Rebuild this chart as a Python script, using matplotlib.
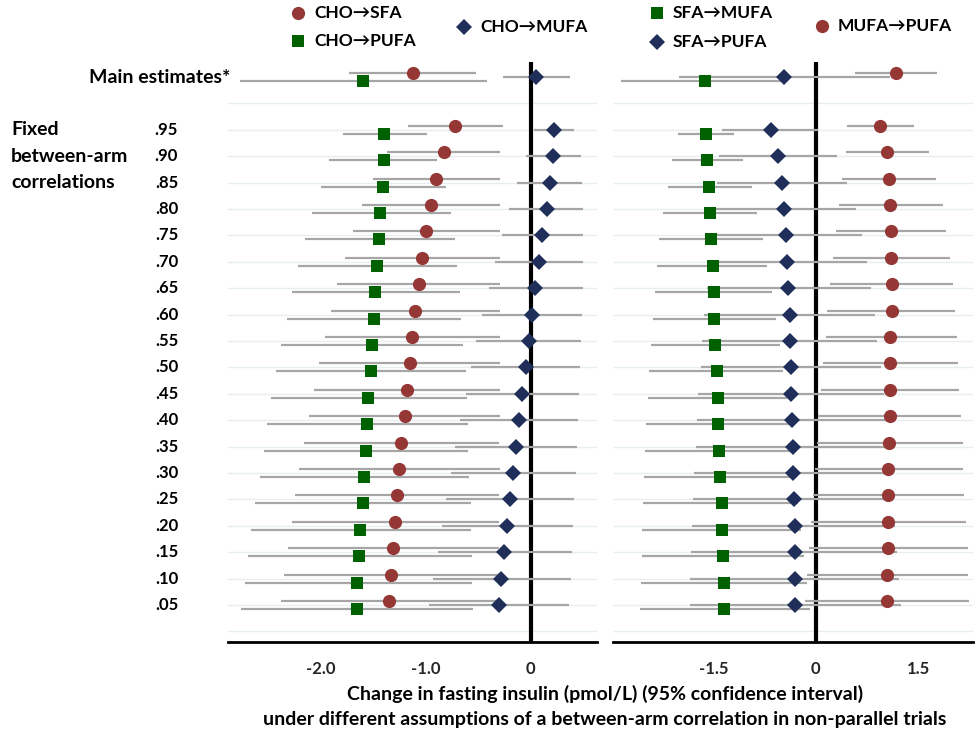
import matplotlib
matplotlib.use("Agg")
import matplotlib.pyplot as plt
import matplotlib.transforms as mtransforms

plt.rcParams['font.family'] = ['Lato', 'DejaVu Sans']
plt.rcParams['font.weight'] = 'bold'

# row labels (first row is the main estimate, then a blank row)
corr_labels = ['.95', '.90', '.85', '.80', '.75', '.70', '.65', '.60', '.55', '.50',
               '.45', '.40', '.35', '.30', '.25', '.20', '.15', '.10', '.05']

# left panel: CHO replaced by ...
cho_sfa = [-1.12, -0.72, -0.83, -0.90, -0.95, -1.00, -1.03, -1.06, -1.10, -1.13, -1.15,
           -1.18, -1.20, -1.23, -1.25, -1.27, -1.29, -1.31, -1.33, -1.35]
cho_sfa_lo = [-1.73, -1.17, -1.37, -1.50, -1.61, -1.69, -1.77, -1.84, -1.90, -1.96, -2.01,
              -2.06, -2.11, -2.16, -2.20, -2.24, -2.27, -2.31, -2.35, -2.38]
cho_sfa_hi = [-0.52, -0.26, -0.29, -0.29, -0.29, -0.29, -0.29, -0.29, -0.29, -0.29, -0.29,
              -0.29, -0.29, -0.30, -0.29, -0.30, -0.30, -0.30, -0.30, -0.31]

cho_pufa = [-1.60, -1.40, -1.40, -1.41, -1.43, -1.44, -1.46, -1.48, -1.49, -1.51, -1.52,
            -1.55, -1.56, -1.57, -1.59, -1.60, -1.62, -1.63, -1.65, -1.65]
cho_pufa_lo = [-2.77, -1.79, -1.92, -2.00, -2.08, -2.15, -2.21, -2.27, -2.32, -2.38, -2.42,
               -2.47, -2.51, -2.54, -2.58, -2.62, -2.66, -2.69, -2.72, -2.76]
cho_pufa_hi = [-0.42, -0.99, -0.89, -0.81, -0.76, -0.72, -0.70, -0.67, -0.66, -0.64, -0.62,
               -0.61, -0.60, -0.60, -0.59, -0.57, -0.57, -0.56, -0.56, -0.55]

cho_mufa = [0.05, 0.22, 0.21, 0.18, 0.15, 0.11, 0.08, 0.04, 0.01, -0.02, -0.05,
            -0.08, -0.11, -0.14, -0.17, -0.20, -0.23, -0.25, -0.28, -0.30]
cho_mufa_lo = [-0.26, 0.03, -0.05, -0.13, -0.21, -0.27, -0.34, -0.40, -0.46, -0.52, -0.57,
               -0.62, -0.67, -0.72, -0.76, -0.81, -0.84, -0.88, -0.93, -0.97]
cho_mufa_hi = [0.37, 0.41, 0.48, 0.49, 0.50, 0.50, 0.50, 0.50, 0.49, 0.48, 0.47,
               0.46, 0.45, 0.44, 0.43, 0.41, 0.40, 0.39, 0.38, 0.36]

# right panel: fat replaced by fat
sfa_mufa = [-1.63, -1.61, -1.59, -1.57, -1.55, -1.53, -1.51, -1.49, -1.49, -1.47, -1.45,
            -1.44, -1.43, -1.42, -1.40, -1.38, -1.38, -1.36, -1.34, -1.34]
sfa_mufa_lo = [-2.85, -2.02, -2.11, -2.17, -2.24, -2.29, -2.32, -2.35, -2.38, -2.42, -2.44,
               -2.46, -2.49, -2.50, -2.51, -2.53, -2.54, -2.55, -2.56, -2.58]
sfa_mufa_hi = [-0.48, -1.20, -1.06, -0.94, -0.86, -0.77, -0.72, -0.64, -0.59, -0.53, -0.48,
               -0.43, -0.39, -0.34, -0.30, -0.26, -0.22, -0.17, -0.13, -0.09]

sfa_pufa = [-0.47, -0.66, -0.55, -0.50, -0.46, -0.44, -0.42, -0.41, -0.38, -0.38, -0.37,
            -0.36, -0.35, -0.34, -0.33, -0.32, -0.30, -0.30, -0.30, -0.30]
sfa_pufa_lo = [-2.01, -1.37, -1.42, -1.45, -1.49, -1.53, -1.56, -1.60, -1.64, -1.66, -1.68,
               -1.72, -1.74, -1.76, -1.78, -1.80, -1.81, -1.83, -1.84, -1.85]
sfa_pufa_hi = [1.08, 0.03, 0.31, 0.45, 0.58, 0.68, 0.75, 0.81, 0.86, 0.90, 0.96,
               1.00, 1.03, 1.07, 1.10, 1.13, 1.16, 1.19, 1.22, 1.25]

mufa_pufa = [1.17, 0.94, 1.04, 1.07, 1.09, 1.10, 1.10, 1.11, 1.11, 1.09, 1.09,
             1.08, 1.08, 1.07, 1.06, 1.06, 1.05, 1.05, 1.04, 1.04]
mufa_pufa_lo = [0.57, 0.46, 0.44, 0.38, 0.34, 0.30, 0.25, 0.21, 0.17, 0.15, 0.11,
                0.07, 0.03, 0.02, -0.02, -0.04, -0.07, -0.10, -0.13, -0.16]
mufa_pufa_hi = [1.78, 1.44, 1.65, 1.76, 1.86, 1.91, 1.96, 2.01, 2.03, 2.06, 2.08,
                2.10, 2.12, 2.15, 2.16, 2.17, 2.20, 2.22, 2.22, 2.24]

RED = '#953735'
GREEN = '#006100'
NAVY = '#1f2f5a'
GREY = '#a6a6a6'

rows = [0] + list(range(2, 21))
off = 0.15

fig = plt.figure(figsize=(9.78, 7.33), dpi=100)
axL = fig.add_axes([228 / 978, 1 - 642 / 733, 369 / 978, 580 / 733])
axR = fig.add_axes([613 / 978, 1 - 642 / 733, 360 / 978, 580 / 733])


def draw(ax, series):
    for k in range(1, 22):
        ax.axhline(k, color='#e6eef0', lw=1, zorder=0)
    ax.axvline(0, color='black', lw=3, zorder=1)
    for vals, lo, hi, marker, color, ms, dy in series:
        ys = [r + dy for r in rows]
        ax.hlines(ys, lo, hi, color=GREY, lw=1.6, zorder=2)
    for vals, lo, hi, marker, color, ms, dy in series:
        ys = [r + dy for r in rows]
        ax.plot(vals, ys, linestyle='none', marker=marker, color=color,
                markersize=ms, markeredgewidth=0, zorder=3)
    ax.set_ylim(21.4, -0.57)
    for s in ['top', 'left', 'right']:
        ax.spines[s].set_visible(False)
    ax.spines['bottom'].set_linewidth(2)
    ax.set_yticks([])
    ax.tick_params(axis='x', length=0, pad=14, labelsize=12, labelcolor='#262626')


draw(axL, [
    (cho_sfa, cho_sfa_lo, cho_sfa_hi, 'o', RED, 9.5, -off),
    (cho_pufa, cho_pufa_lo, cho_pufa_hi, 's', GREEN, 9, off),
    (cho_mufa, cho_mufa_lo, cho_mufa_hi, 'D', NAVY, 8.5, 0),
])
axL.set_xlim(-2.88, 0.63)
axL.set_xticks([-2.0, -1.0, 0])
axL.set_xticklabels(['-2.0', '-1.0', '0'], fontweight='bold')

draw(axR, [
    (mufa_pufa, mufa_pufa_lo, mufa_pufa_hi, 'o', RED, 9.5, -off),
    (sfa_mufa, sfa_mufa_lo, sfa_mufa_hi, 's', GREEN, 9, off),
    (sfa_pufa, sfa_pufa_lo, sfa_pufa_hi, 'D', NAVY, 8.5, 0),
])
axR.set_xlim(-2.97, 2.30)
axR.set_xticks([-1.5, 0, 1.5])
axR.set_xticklabels(['-1.5', '0', '1.5'], fontweight='bold')

# row labels
tr = mtransforms.blended_transform_factory(fig.transFigure, axL.transData)
fig.text(230 / 978, 0, 'Main estimates*', transform=tr, ha='right', va='center',
         fontsize=14, fontweight='bold')
for k, lab in zip(range(2, 21), corr_labels):
    fig.text(178 / 978, k, lab, transform=tr, ha='right', va='center',
             fontsize=12, fontweight='bold')
for k, lab in zip([2, 3, 4], ['Fixed', 'between-arm', 'correlations']):
    fig.text(11 / 978, k, lab, transform=tr, ha='left', va='center',
             fontsize=14, fontweight='bold')

# legend entries
legend_items = [
    (298, 13, 'o', RED, 9.5, 'CHO\u2192SFA'),
    (298, 41, 's', GREEN, 9, 'CHO\u2192PUFA'),
    (464, 27, 'D', NAVY, 8.5, 'CHO\u2192MUFA'),
    (657, 13, 's', GREEN, 9, 'SFA\u2192MUFA'),
    (657, 42, 'D', NAVY, 8.5, 'SFA\u2192PUFA'),
    (822, 26, 'o', RED, 9.5, 'MUFA\u2192PUFA'),
]
for px, py, marker, color, ms, label in legend_items:
    fx, fy = px / 978, 1 - py / 733
    fig.lines.append(plt.Line2D([fx], [fy], transform=fig.transFigure, marker=marker,
                                color=color, markersize=ms, markeredgewidth=0,
                                linestyle='none'))
    fig.text(fx + 16 / 978, fy, label, ha='left', va='center', fontsize=12.5,
             fontweight='bold')

fig.text(605 / 978, 1 - 694 / 733,
         'Change in fasting insulin (pmol/L) (95% confidence interval)',
         ha='center', va='center', fontsize=14, fontweight='bold')
fig.text(605 / 978, 1 - 719 / 733,
         'under different assumptions of a between-arm correlation in non-parallel trials',
         ha='center', va='center', fontsize=14, fontweight='bold')

fig.savefig('out.png', dpi=100)
